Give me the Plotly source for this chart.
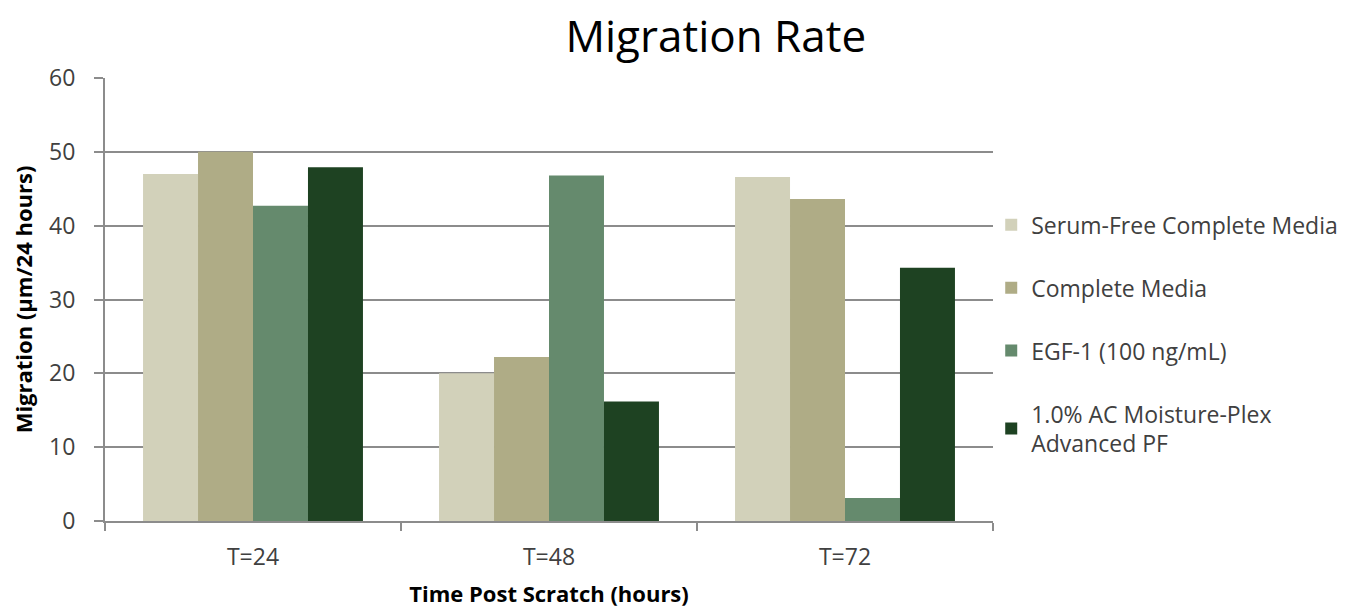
import plotly.graph_objects as go

# Time points after the scratch
time_points = ["T=24", "T=48", "T=72"]

# Migration (µm/24 hours) per treatment
serum_free = [47.0, 20.0, 46.6]
complete_media = [50.0, 22.2, 43.6]
egf1 = [42.7, 46.8, 3.1]
moisture_plex = [47.9, 16.2, 34.3]

series_names = [
    "Serum-Free Complete Media",
    "Complete Media",
    "EGF-1 (100 ng/mL)",
    "1.0% AC Moisture-Plex<br>Advanced PF",
]
series_values = [serum_free, complete_media, egf1, moisture_plex]
series_colors = ["#D2D1BA", "#AFAC86", "#658A6D", "#1E4222"]

FONT = "Open Sans, Noto Sans, sans-serif"

fig = go.Figure()
for i, (name, vals, col) in enumerate(zip(series_names, series_values, series_colors)):
    fig.add_trace(go.Bar(
        x=time_points, y=vals, name=name,
        marker=dict(color=col, line=dict(width=0)),
        legendgroup=f"g{i}",
    ))

fig.update_layout(
    width=1366, height=608,
    margin=dict(l=105, r=373, t=78, b=87),
    paper_bgcolor="white", plot_bgcolor="white",
    barmode="group", bargap=0.257, bargroupgap=0,
    font=dict(family=FONT, color="#404040"),
    title=dict(text="Migration Rate", x=0.524, xanchor="center",
               y=0.94, yanchor="middle",
               font=dict(family=FONT, size=44, color="#000000")),
    legend=dict(x=0.998, xanchor="left", y=0.717, yanchor="top",
                font=dict(family=FONT, size=23, color="#404040"),
                traceorder="grouped", tracegroupgap=30,
                itemwidth=30, bgcolor="rgba(0,0,0,0)"),
    showlegend=True,
)

fig.update_yaxes(
    range=[0, 60], dtick=10,
    showgrid=True, gridcolor="#8C8C8C", gridwidth=2,
    showline=True, linecolor="#8C8C8C", linewidth=2,
    ticks="outside", ticklen=9, tickcolor="#8C8C8C", tickwidth=2,
    tickfont=dict(family=FONT, size=23, color="#404040"),
    ticklabelstandoff=14,
    zeroline=False, automargin=False,
    title=dict(text="<b>Migration (µm/24 hours)</b>", standoff=10,
               font=dict(family=FONT, size=22, color="#000000")),
)
fig.update_xaxes(
    showline=True, linecolor="#8C8C8C", linewidth=2,
    ticks="outside", ticklen=8, tickcolor="#8C8C8C", tickwidth=2,
    tickson="boundaries",
    tickfont=dict(family=FONT, size=23, color="#404040"),
    ticklabelstandoff=14, automargin=False,
    title=dict(text="<b>Time Post Scratch (hours)</b>", standoff=17,
               font=dict(family=FONT, size=22, color="#000000")),
)

fig.write_html("out.html")
